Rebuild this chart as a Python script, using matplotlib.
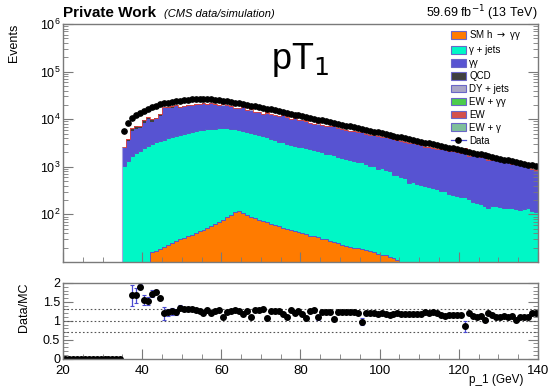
import numpy as np
import matplotlib
matplotlib.use("Agg")
import matplotlib.pyplot as plt
from matplotlib.patches import Patch
from matplotlib.lines import Line2D
from matplotlib.ticker import MultipleLocator, LogLocator, NullFormatter, FixedLocator

plt.rcParams['font.family'] = ['Liberation Sans', 'DejaVu Sans']

# binning : 1 GeV bins from 20 to 140, first filled bin is 35
edges = np.arange(20, 141, 1)
first_bin = 35

# per-bin values, bins 35 ... 139
data = [5623, 8511, 10715, 12023, 13490, 15136, 16596, 17783, 19055, 20417,
        21380, 22387, 23174, 23988, 24547, 25119, 25704, 26002, 26250, 26380,
        26310, 26200, 26002, 25704, 25119, 24547, 23988, 23174, 22387, 21627,
        20893, 19953, 19275, 18621, 17989, 17378, 16680, 16010, 15365, 14748,
        14155, 13586, 13040, 12516, 12013, 11530, 11066, 10621, 10194, 9784,
        9391, 9013, 8651, 8303, 7970, 7649, 7342, 7047, 6763, 6492,
        6231, 5980, 5740, 5509, 5288, 5075, 4871, 4675, 4487, 4307,
        4134, 3968, 3808, 3655, 3508, 3367, 3232, 3102, 2977, 2857,
        2743, 2632, 2526, 2425, 2327, 2234, 2144, 2058, 1975, 1896,
        1820, 1746, 1676, 1609, 1544, 1482, 1423, 1365, 1310, 1258,
        1207, 1159, 1112, 1068, 1025]

sm_h = [2, 3, 4, 5, 6, 7, 9, 16, 17, 19,
        21, 23, 25, 28, 30, 32, 35, 37, 40, 44,
        47, 51, 56, 62, 69, 78, 87, 98, 112, 117,
        107, 98, 89, 83, 78, 72, 68, 63, 59, 56,
        53, 50, 48, 45, 43, 41, 39, 36, 35, 33,
        31, 30, 28, 26, 25, 23, 22, 21, 20, 20,
        19, 18, 17, 16, 15, 14, 14, 13, 12, 11,
        10, 9.5, 9, 8.3, 7.8, 7.3, 6.8, 6.3, 5.9, 5.5,
        5.1, 4.8, 4.5, 4.2, 3.9, 3.6, 3.4, 3.2, 3.0, 2.8,
        2.6, 2.4, 2.3, 2.1, 2.0, 1.9, 1.8, 1.7, 1.6, 1.5,
        1.4, 1.3, 1.2, 1.1, 1.0]

gjets = [1047, 1318, 1660, 1905, 2188, 2455, 2692, 2951, 3236, 3467,
         3715, 3981, 4169, 4365, 4571, 4786, 5129, 5370, 5623, 5888,
         6026, 6166, 6310, 6310, 6457, 6310, 6310, 6166, 6026, 5888,
         5623, 5370, 5129, 4786, 4571, 4365, 4074, 3802, 3548, 3311,
         3236, 3020, 2884, 2754, 2570, 2512, 2399, 2344, 2188, 2089,
         2042, 1862, 1820, 1738, 1585, 1479, 1445, 1380, 1318, 1259,
         1230, 1122, 1047, 1000, 891, 912, 851, 794, 676, 661,
         603, 575, 457, 468, 437, 398, 389, 363, 347, 331,
         309, 302, 269, 257, 240, 229, 224, 204, 178, 174,
         166, 151, 135, 145, 151, 141, 132, 135, 138, 129,
         120, 126, 132, 117, 110]

gg = [1445, 2135, 4034, 4257, 4458, 6037, 7334, 5976, 6864, 8230,
      13046, 13500, 13090, 14605, 12612, 13781, 13526, 14156, 14197, 14821,
      15257, 14043, 15016, 13658, 12670, 12980, 13001, 12020, 10770, 11059,
      11746, 10149, 9990, 9361, 9207, 8387, 8706, 8665, 8322, 8176,
      8551, 7650, 7034, 7393, 6865, 7091, 6437, 6000, 5629, 5597,
      5522, 5337, 5148, 4951, 4835, 4633, 4470, 4250, 4131, 4015,
      3832, 3777, 3617, 3514, 3480, 3247, 3209, 3104, 3066, 2870,
      2816, 2734, 2719, 2608, 2489, 2411, 2217, 2161, 2054, 1994,
      2062, 1993, 1896, 1839, 1753, 1702, 1613, 1485, 1560, 1510,
      1436, 1387, 1242, 1246, 1221, 1188, 1121, 1089, 1016, 988,
      962, 922, 856, 759, 732]

qcd = [0, 250, 600, 900, 300, 1100, 700, 1200, 500, 900,
       800, 600, 1000, 400, 700, 300, 500, 0, 400, 0,
       300, 0, 0, 250, 0, 0, 0, 0, 200, 0,
       0, 0, 0, 0, 0, 150, 0, 0, 0, 0,
       0, 0, 0, 100, 0, 0, 0, 0, 0, 0,
       0, 0, 0, 0, 0, 0, 0, 0, 0, 0,
       0, 0, 0, 0, 0, 0, 0, 0, 0, 0,
       0, 0, 0, 0, 0, 0, 0, 0, 0, 0,
       0, 0, 0, 0, 0, 0, 0, 0, 0, 0,
       0, 0, 0, 0, 0, 0, 0, 0, 0, 0,
       0, 0, 0, 0, 0]

dy = [14, 21, 27, 30, 34, 38, 41, 44, 48, 51,
      53, 56, 58, 60, 61, 63, 64, 65, 66, 66,
      66, 66, 65, 64, 63, 61, 60, 58, 56, 54,
      52, 50, 48, 47, 45, 43, 42, 40, 38, 37,
      35, 34, 33, 31, 30, 29, 28, 27, 25, 24,
      23, 23, 22, 21, 20, 19, 18, 18, 17, 16,
      16, 15, 14, 14, 13, 13, 12, 12, 11, 11,
      10, 10, 10, 9, 9, 8, 8, 8, 7, 7,
      7, 7, 6, 6, 6, 6, 5, 5, 5, 5,
      5, 4, 4, 4, 4, 4, 4, 3, 3, 3,
      3, 3, 3, 3, 3]

ew_gg = [3, 4, 5, 6, 7, 8, 8, 9, 10, 10,
         11, 11, 12, 12, 12, 13, 13, 13, 13, 13,
         13, 13, 13, 13, 13, 12, 12, 12, 11, 11,
         10, 10, 10, 9, 9, 9, 8, 8, 8, 7,
         7, 7, 7, 6, 6, 6, 6, 5, 5, 5,
         5, 5, 4, 4, 4, 4, 4, 4, 3, 3,
         3, 3, 3, 3, 3, 3, 2, 2, 2, 2,
         2, 2, 2, 2, 2, 2, 2, 2, 1, 1,
         1, 1, 1, 1, 1, 1, 1, 1, 1, 1,
         1, 1, 1, 1, 1, 1, 1, 1, 1, 1,
         1, 1, 1, 1, 1]

ew = [31, 47, 59, 66, 74, 83, 91, 98, 105, 112,
      118, 123, 127, 132, 135, 138, 141, 143, 145, 145,
      145, 145, 143, 141, 138, 3017, 132, 127, 123, 119,
      115, 110, 2051, 102, 99, 96, 2650, 88, 85, 81,
      78, 1670, 72, 69, 66, 63, 1406, 58, 56, 1203,
      52, 50, 48, 1148, 44, 42, 40, 39, 37, 36,
      1242, 33, 32, 30, 29, 28, 27, 165, 25, 24,
      23, 22, 21, 20, 19, 19, 18, 17, 16, 16,
      15, 14, 14, 13, 13, 12, 670, 11, 11, 10,
      10, 163, 9, 9, 8, 8, 8, 8, 7, 107,
      7, 6, 6, 6, 6]

ew_g = [13, 20, 26, 31, 33, 37, 42, 45, 47, 50,
        54, 55, 57, 61, 62, 62, 65, 64, 66, 67,
        65, 66, 66, 63, 62, 62, 59, 58, 57, 53,
        53, 49, 49, 46, 45, 44, 41, 40, 39, 36,
        36, 33, 33, 32, 29, 29, 27, 27, 26, 24,
        24, 22, 22, 21, 20, 19, 19, 17, 17, 16,
        15, 15, 15, 13, 13, 12, 12, 12, 11, 10,
        10, 10, 9, 9, 9, 9, 8, 7, 7, 7,
        7, 6, 6, 6, 6, 5, 5, 5, 5, 5,
        4, 4, 4, 4, 4, 3, 4, 3, 3, 3,
        3, 3, 3, 3, 2]

# ratio error bars that are visible (MC stat), others from data stat only
err_bins = [37, 38, 39, 40, 41, 42, 43, 44, 45, 46, 47, 48, 49, 50, 51,
            60, 67, 71, 76, 81, 84, 88, 95, 121]
err_vals = [0.27, 0.2, 0.07, 0.13, 0.1, 0.1, 0.05, 0.05, 0.17, 0.1, 0.1, 0.08, 0.06, 0.05, 0.05,
            0.04, 0.04, 0.05, 0.05, 0.05, 0.06, 0.05, 0.1, 0.15]

labels = ["SM h $\\rightarrow$ γγ", "γ + jets", "γγ", "QCD", "DY + jets", "EW + γγ", "EW", "EW + γ"]
colors = ["#ff7b00", "#00f7c6", "#5753d2", "#3f3f3f", "#a9a6c6", "#4ccc4c", "#d4504c", "#7fbf9b"]
comps = [sm_h, gjets, gg, qcd, dy, ew_gg, ew, ew_g]


def pad(vals):
    # bins below first_bin are empty
    return np.concatenate([np.zeros(first_bin - edges[0]), np.array(vals, dtype=float)])


centers = edges[:-1] + 0.5
d = pad(data)
stack = [pad(c) for c in comps]
mc = np.sum(stack, axis=0)
i0 = first_bin - edges[0]

fig = plt.figure(figsize=(5.5, 3.87), dpi=100)
ax = fig.add_axes([0.1145, 0.323, 0.8636, 0.615])
ax2 = fig.add_axes([0.1145, 0.0735, 0.8636, 0.1953])

grey = "#7a7a7a"

# stacked histograms
cum = np.zeros(len(centers))
for vals, col in zip(stack, colors):
    up = cum + vals
    ax.fill_between(edges, np.append(cum, cum[-1]), np.append(up, up[-1]),
                    step="post", color=col, lw=0)
    cum = up
# outlines like ROOT
ax.set_yscale("log")
ax.set_ylim(10, 1e6)
ax.vlines(edges[i0], ax.get_ylim()[0], mc[i0], color="#a8a4e0", lw=0.8)
ax.stairs(stack[0][i0:], edges[i0:], baseline=None, color="#5a55c8", lw=0.7)
ax.stairs((stack[0] + stack[1])[i0:], edges[i0:], baseline=None, color="#5a55c8", lw=0.7)
ax.stairs(mc[i0:], edges[i0:], baseline=None, color="#e0403c", lw=0.6)

# data
m = d > 0
ax.errorbar(centers[m], d[m], yerr=np.sqrt(d[m]), fmt="o", color="black",
            ecolor="#4a4ad0", ms=3.8, elinewidth=0.8, capsize=0)

ax.set_xlim(20, 140)
ax.yaxis.set_major_locator(FixedLocator([1e2, 1e3, 1e4, 1e5, 1e6]))
ax.yaxis.set_minor_locator(LogLocator(base=10, subs=np.arange(2, 10)))
ax.yaxis.set_minor_formatter(NullFormatter())
ax.xaxis.set_major_locator(MultipleLocator(20))
ax.xaxis.set_minor_locator(MultipleLocator(5))
ax.set_xticklabels([])
ax.set_ylabel("Events", loc="top", fontsize=9, labelpad=14)

# ratio
ratio = np.where(mc > 0, d / np.where(mc > 0, mc, 1), 0.0)
rerr = np.where(mc > 0, np.sqrt(d) / np.where(mc > 0, mc, 1), 0.0)
for b, e in zip(err_bins, err_vals):
    rerr[b - edges[0]] = e
for yl in (0.7, 1.0, 1.3):
    ax2.axhline(yl, color="#555555", ls=(0, (1.5, 2)), lw=0.8)
ax2.errorbar(centers, ratio, yerr=rerr, fmt="o", color="black", ecolor="#4a4ad0",
             ms=4, elinewidth=0.9, capsize=1.5, capthick=0.8)
ax2.set_xlim(20, 140)
ax2.set_ylim(0, 2)
ax2.yaxis.set_major_locator(MultipleLocator(0.5))
ax2.yaxis.set_minor_locator(MultipleLocator(0.1))
ax2.xaxis.set_major_locator(MultipleLocator(20))
ax2.xaxis.set_minor_locator(MultipleLocator(5))
ax2.set_yticks([0, 0.5, 1, 1.5, 2])
ax2.set_yticklabels(["0", "0.5", "1", "1.5", "2"])
ax2.set_ylabel("Data/MC", loc="top", fontsize=9, labelpad=9)
ax2.set_xlabel("p_1 (GeV)", fontsize=8.5, ha="right", va="top")
ax2.xaxis.set_label_coords(0.97, -0.2)

for a in (ax, ax2):
    for s in a.spines.values():
        s.set_color(grey)
        s.set_linewidth(1.0)
    a.tick_params(which="both", direction="in", right=True, top=False, color=grey,
                  labelsize=9, pad=2)
    a.tick_params(which="major", length=7)
    a.tick_params(which="minor", length=3.5)
ax2.tick_params(axis="y", labelsize=9)
ax2.tick_params(axis="x", labelsize=9.5, pad=5)

# legend
handles = [Patch(facecolor=c, edgecolor="#6a66c8", lw=0.8) for c in colors]
handles.append(Line2D([0], [0], color="#4a4ad0", lw=0.9, marker="o", ms=3.8,
                      markerfacecolor="black", markeredgecolor="black"))
ax.legend(handles, labels + ["Data"], loc="upper left", bbox_to_anchor=(0.812, 0.99),
          frameon=False, fontsize=7, handlelength=1.55, handleheight=0.85,
          handletextpad=0.35, labelspacing=0.3, borderaxespad=0, borderpad=0.2)

ax.text(0.5, 0.85, "pT$_1$", transform=ax.transAxes, fontsize=26, ha="center", va="center")

fig.text(0.1145, 0.955, "Private Work", fontsize=11, fontweight="bold", va="baseline")
fig.text(0.298, 0.955, "(CMS data/simulation)", fontsize=8, style="italic", va="baseline")
fig.text(0.978, 0.955, "59.69 fb$^{-1}$ (13 TeV)", fontsize=9, ha="right", va="baseline")

fig.savefig("out.png", dpi=100)
